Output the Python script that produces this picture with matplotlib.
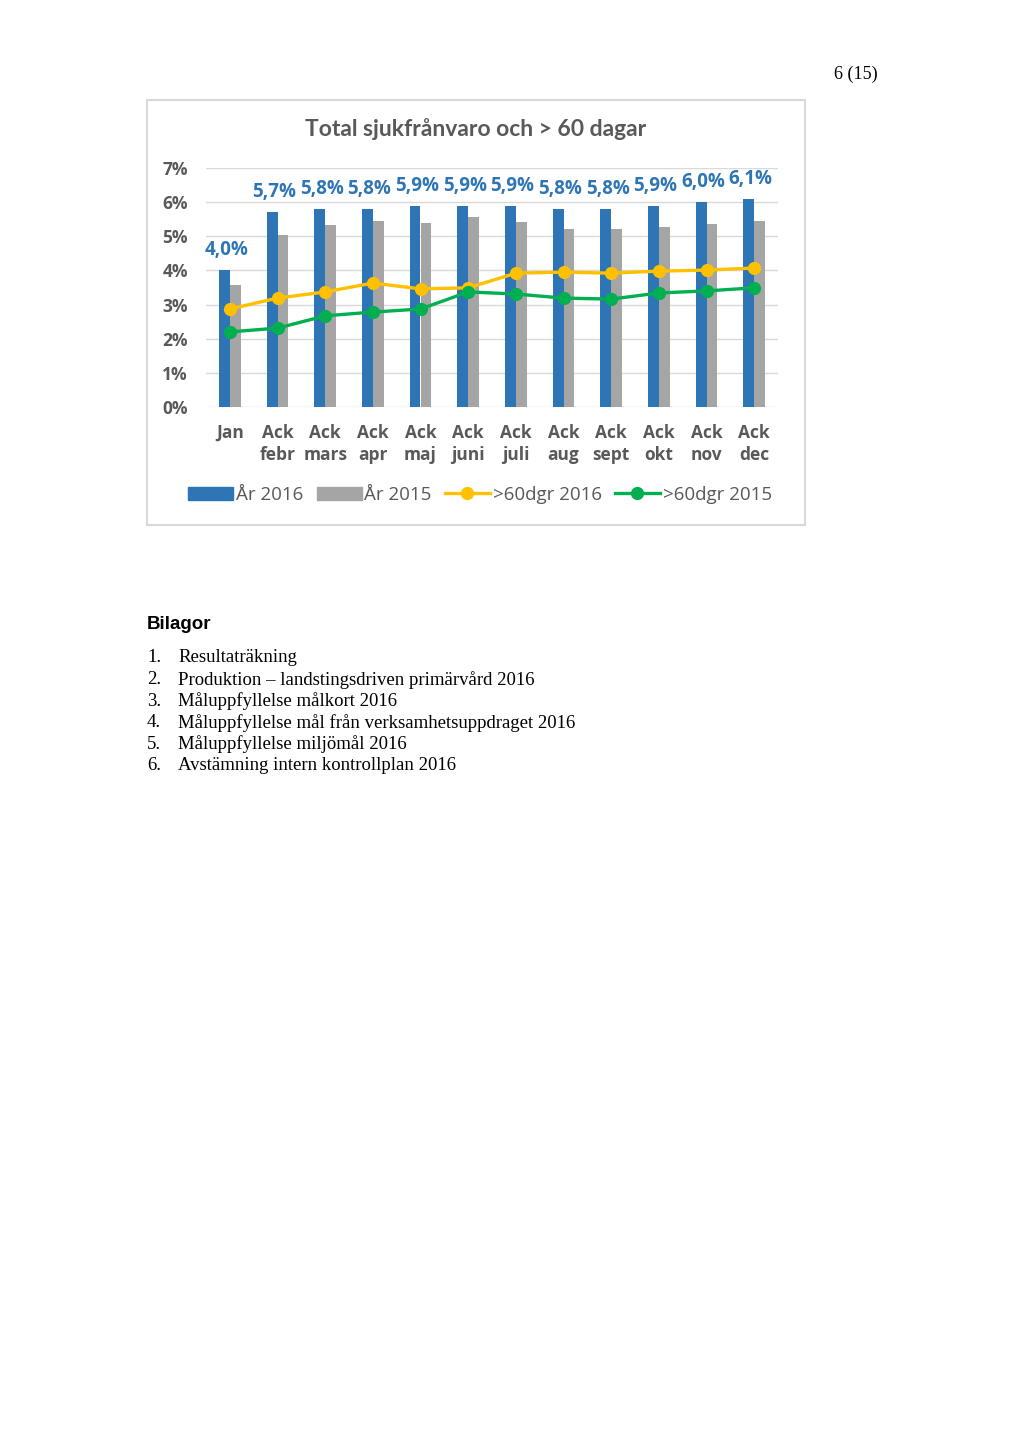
import matplotlib.pyplot as plt
from matplotlib.patches import Rectangle
from matplotlib.lines import Line2D
import numpy as np

# data (percent)
months = ["Jan", "Ack\nfebr", "Ack\nmars", "Ack\napr", "Ack\nmaj", "Ack\njuni",
          "Ack\njuli", "Ack\naug", "Ack\nsept", "Ack\nokt", "Ack\nnov", "Ack\ndec"]
ar_2016 = [4.0, 5.7, 5.8, 5.8, 5.9, 5.9, 5.9, 5.8, 5.8, 5.9, 6.0, 6.1]
ar_2015 = [3.57, 5.04, 5.33, 5.45, 5.39, 5.57, 5.42, 5.21, 5.21, 5.27, 5.36, 5.45]
dgr60_2016 = [2.87, 3.19, 3.37, 3.63, 3.46, 3.49, 3.92, 3.95, 3.92, 3.98, 4.01, 4.07]
dgr60_2015 = [2.20, 2.31, 2.67, 2.78, 2.87, 3.37, 3.31, 3.19, 3.16, 3.34, 3.40, 3.49]
yticks = [0, 1, 2, 3, 4, 5, 6, 7]

bilagor = ["Resultaträkning",
           "Produktion \u2013 landstingsdriven primärvård 2016",
           "Måluppfyllelse målkort 2016",
           "Måluppfyllelse mål från verksamhetsuppdraget 2016",
           "Måluppfyllelse miljömål 2016",
           "Avstämning intern kontrollplan 2016"]

BLUE = "#2E75B6"
GRAY = "#A5A5A5"
YELLOW = "#FFC000"
GREEN = "#00B050"
TXT = "#595959"
W, H = 1024, 1448

fig = plt.figure(figsize=(W / 100, H / 100), dpi=100)
fig.patch.set_facecolor("white")

def fx(px):
    return px / W

def fy(py):
    return 1 - py / H

# chart frame
fig.add_artist(Rectangle((fx(147), fy(525)), fx(805) - fx(147), fy(100) - fy(525),
                         transform=fig.transFigure, fill=False, edgecolor="#D9D9D9", lw=1.5))

ax = fig.add_axes([fx(206), fy(407), fx(778) - fx(206), fy(168) - fy(407)])
x = np.arange(len(months))
bw = 0.23
ax.bar(x - bw / 2, ar_2016, bw, color=BLUE, zorder=2)
ax.bar(x + bw / 2, ar_2015, bw, color=GRAY, zorder=2)
ax.plot(x, dgr60_2016, color=YELLOW, lw=2.4, marker="o", ms=8.5, zorder=3)
ax.plot(x, dgr60_2015, color=GREEN, lw=2.4, marker="o", ms=8.5, zorder=3)

for xi, v in zip(x, ar_2016):
    ax.annotate(f"{v:.1f}%".replace(".", ","), (xi - 0.07, v), xytext=(0, 10),
                textcoords="offset pixels", ha="center", va="bottom",
                color=BLUE, fontsize=13.5, fontweight="bold", family="Open Sans")

ax.set_xlim(-0.5, len(months) - 0.5)
ax.set_ylim(0, 7)
ax.set_yticks(yticks)
ax.set_yticklabels([f"{t}%" for t in yticks])
ax.set_xticks(x)
ax.set_xticklabels(months, linespacing=1.3)
ax.tick_params(length=0, colors=TXT, labelsize=12.5)
ax.tick_params(axis="x", pad=12)
ax.tick_params(axis="y", pad=13)
for lbl in ax.get_xticklabels() + ax.get_yticklabels():
    lbl.set_fontweight("bold")
    lbl.set_family("Open Sans")
ax.grid(axis="y", color="#D9D9D9", lw=1, zorder=0)
for s in ax.spines.values():
    s.set_visible(False)

fig.text(fx(476), fy(129), "Total sjukfrånvaro och > 60 dagar", ha="center", va="center",
         fontsize=16.5, fontweight="bold", color=TXT, family="Lato")

handles = [Rectangle((0, 0), 1, 1, color=BLUE), Rectangle((0, 0), 1, 1, color=GRAY),
           Line2D([], [], color=YELLOW, lw=2.4, marker="o", ms=8.5),
           Line2D([], [], color=GREEN, lw=2.4, marker="o", ms=8.5)]
leg = fig.legend(handles, ["År 2016", "År 2015", ">60dgr 2016", ">60dgr 2015"],
                 loc="center", bbox_to_anchor=(fx(480), fy(495)), ncol=4, frameon=False,
                 handlelength=2.4, handletextpad=0.15, columnspacing=0.7,
                 prop={"family": "Open Sans", "size": 13.5})
for t in leg.get_texts():
    t.set_color(TXT)

# page text
fig.text(fx(878), fy(74), "6 (15)", ha="right", va="center", fontsize=13,
         family="Liberation Serif")
fig.text(fx(147), fy(625), "Bilagor", ha="left", va="center", fontsize=13.5,
         fontweight="bold", family="Liberation Sans")
for i, item in enumerate(bilagor):
    yy = fy(658 + i * 21.6)
    fig.text(fx(147), yy, f"{i + 1}.", ha="left", va="center", fontsize=13.5,
             family="Liberation Serif")
    fig.text(fx(178), yy, item, ha="left", va="center", fontsize=13.5,
             family="Liberation Serif")

fig.savefig("out.png", dpi=100)
